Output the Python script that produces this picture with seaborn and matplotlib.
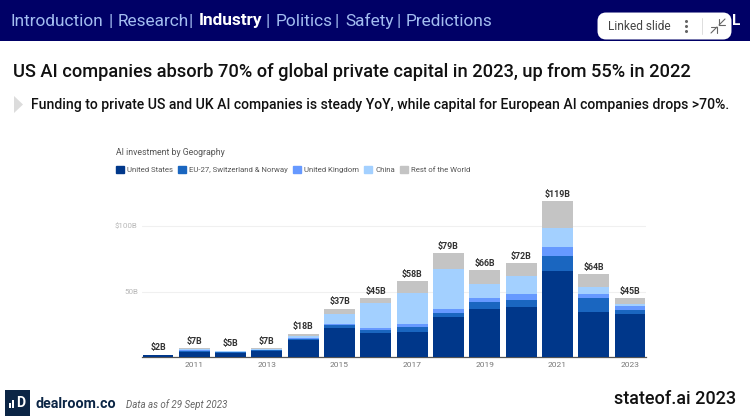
"""State of AI 2023: AI investment by geography slide."""
import matplotlib
matplotlib.use("Agg")
import matplotlib.pyplot as plt
import numpy as np
import pandas as pd
import seaborn as sns
from matplotlib.lines import Line2D
from matplotlib.patches import FancyBboxPatch, Polygon, Rectangle

sns.set_theme(style="white")
plt.rcParams["font.family"] = ["Roboto", "DejaVu Sans"]

years = [str(y) for y in range(2010, 2024)]
totals = [2, 7, 5, 7, 18, 37, 45, 58, 79, 66, 72, 119, 64, 45]
us = [1.5, 4.3, 3.5, 5.0, 13.2, 22.5, 18.7, 19.5, 30.6, 36.5, 38.5, 65.6, 34.4, 33.0]
eu = [0.2, 0.5, 0.4, 0.5, 0.8, 2.0, 2.3, 3.8, 3.1, 5.3, 5.0, 11.4, 10.6, 3.0]
uk = [0.1, 0.4, 0.3, 0.3, 0.7, 1.0, 1.3, 2.0, 2.8, 3.0, 4.5, 6.8, 3.4, 3.0]
china = [0.1, 1.3, 0.5, 0.8, 1.8, 7.5, 19.2, 23.7, 30.3, 10.9, 13.8, 14.7, 5.0, 1.5]
rest = [0.1, 0.5, 0.3, 0.4, 1.5, 4.0, 3.5, 8.7, 12.2, 10.3, 9.8, 20.2, 10.1, 4.3]

series_names = ["United States", "EU-27, Switzerland & Norway", "United Kingdom", "China", "Rest of the World"]
series_colors = ["#00378a", "#1a66c0", "#6699ff", "#a3d0ff", "#c4c4c4"]
x_tick_labels = ["2011", "2013", "2015", "2017", "2019", "2021", "2023"]
y_ticks = [50, 100]
y_tick_labels = ["50B", "$100B"]

W, H = 750, 419
fig = plt.figure(figsize=(W / 100, H / 100), dpi=100, facecolor="white")

# full-slide layer in pixel coordinates for the header and footer
bg = fig.add_axes([0, 0, 1, 1], zorder=0)
bg.set_xlim(0, W)
bg.set_ylim(H, 0)
bg.axis("off")

# chart axes: baseline at y=357, 1.316 px per $1B
left, right, base = 142, 646, 357.3
top = 140
ax = fig.add_axes([left / W, 1 - base / H, (right - left) / W, (base - top) / H], zorder=1)
ax.patch.set_alpha(0)

df = pd.DataFrame({"year": years, "us": us, "eu": eu, "uk": uk, "china": china, "rest": rest})
bottom = np.zeros(len(years))
for col, color in zip(["us", "eu", "uk", "china", "rest"], series_colors):
    sns.barplot(data=df, x="year", y=col, bottom=bottom, color=color, saturation=1,
                width=0.85, errorbar=None, ax=ax, zorder=3, linewidth=0, edgecolor="none")
    bottom = bottom + df[col].to_numpy()

for i, total in enumerate(totals):
    ax.annotate(f"${total}B", (i, bottom[i]), xytext=(0, 1.6), textcoords="offset points",
                ha="center", va="bottom", fontsize=6.4, fontweight="bold", color="#333333")

ax.set_xlim(-0.44, 13.44)
ax.set_ylim(0, (base - top) / 1.316)
ax.set_xticks([years.index(y) for y in x_tick_labels], x_tick_labels)
ax.set_yticks(y_ticks, y_tick_labels)
ax.set_xlabel("")
ax.set_ylabel("")
ax.tick_params(axis="x", length=0, pad=3.5, labelsize=6, labelcolor="#777777")
ax.tick_params(axis="y", length=0, pad=3, labelsize=5.8, labelcolor="#b8b8b8")
ax.yaxis.grid(True, color="#f0f0f0", linewidth=0.8)
ax.set_axisbelow(True)
sns.despine(ax=ax, left=True)
ax.spines["bottom"].set_color("#555555")
ax.spines["bottom"].set_linewidth(0.9)

# legend
handles = [Rectangle((0, 0), 1, 1, color=c) for c in series_colors]
fig.legend(handles, series_names, ncol=5, loc="center left", bbox_to_anchor=(116 / W, 1 - 169.5 / H),
           frameon=False, fontsize=5.6, labelcolor="#555555", handlelength=1.03, handleheight=1.03,
           handletextpad=0.4, columnspacing=0.65, borderpad=0, borderaxespad=0)
bg.text(116, 152, "AI investment by Geography", fontsize=6.35, color="#555555", va="center")

# header band
bg.add_patch(Rectangle((0, 0), W, 41, color="#000066", lw=0))
nav = [("Introduction", 11, False), ("Research", 118, False), ("Industry", 199, True),
       ("Politics", 276, False), ("Safety", 345, False), ("Predictions", 406, False)]
pipes = [110.5, 191, 267.5, 337, 398.5]
for label, x, bold in nav:
    bg.text(x, 21, label, fontsize=12.4, va="center", color="white" if bold else "#a3bdf0",
            fontweight="bold" if bold else "normal")
for x in pipes:
    bg.text(x, 21, "|", fontsize=12.2, va="center", ha="center", color="#a3bdf0")
bg.text(732, 21, "L", fontsize=11, va="center", color="white", fontweight="bold")

# linked slide pill
bg.add_patch(FancyBboxPatch((601, 16), 127, 20, boxstyle="round,pad=0,rounding_size=5", facecolor="white",
                            edgecolor="white", mutation_aspect=1, linewidth=5, zorder=4))
bg.text(608, 26, "Linked slide", fontsize=8.6, color="#444444", va="center", zorder=5)
bg.plot([686, 686, 686], [21, 26, 31], ls="none", marker="o", ms=1.2, color="#666666", zorder=5)
bg.add_line(Line2D([702, 702], [18, 34], color="#dddddd", lw=0.7, zorder=5))
bg.add_line(Line2D([711, 717], [33, 27], color="#666666", lw=0.8, zorder=5))
bg.add_line(Line2D([711, 717, 717], [27, 27, 33], color="#666666", lw=0.8, zorder=5))
bg.add_line(Line2D([719, 725], [25, 19], color="#666666", lw=0.8, zorder=5))
bg.add_line(Line2D([719, 719, 725], [19, 25, 25], color="#666666", lw=0.8, zorder=5))

# headline and subtitle
bg.text(13, 72, "US AI companies absorb 70% of global private capital in 2023, up from 55% in 2022",
        fontsize=13.17, va="center", color="#111111", fontweight="medium")
bg.add_patch(Polygon([(14, 96), (23, 104.5), (14, 113)], closed=True, color="#dcdcdc", lw=0))
bg.text(31, 105, "Funding to private US and UK AI companies is steady YoY, while capital for European AI companies drops >70%.",
        fontsize=10.07, va="center", color="#111111", fontweight="medium")

# footer
bg.add_patch(Rectangle((5, 390), 25, 26, color="#0b2545", lw=0))
bg.text(21, 403, "D", fontsize=10, color="white", fontweight="bold", ha="center", va="center")
for x, h in [(9, 5), (12, 8)]:
    bg.add_patch(Rectangle((x, 408 - h), 2, h, color="white", lw=0))
bg.text(35, 404, "dealroom.co", fontsize=10.3, color="#0b2545", fontweight="bold", va="center")
bg.text(126, 404.5, "Data as of 29 Sept 2023", fontsize=7, color="#666666", style="italic", va="center")
bg.text(736, 399, "stateof.ai 2023", fontsize=13, color="#111111", fontweight="medium", ha="right", va="center")

fig.savefig("out.png", dpi=100)
